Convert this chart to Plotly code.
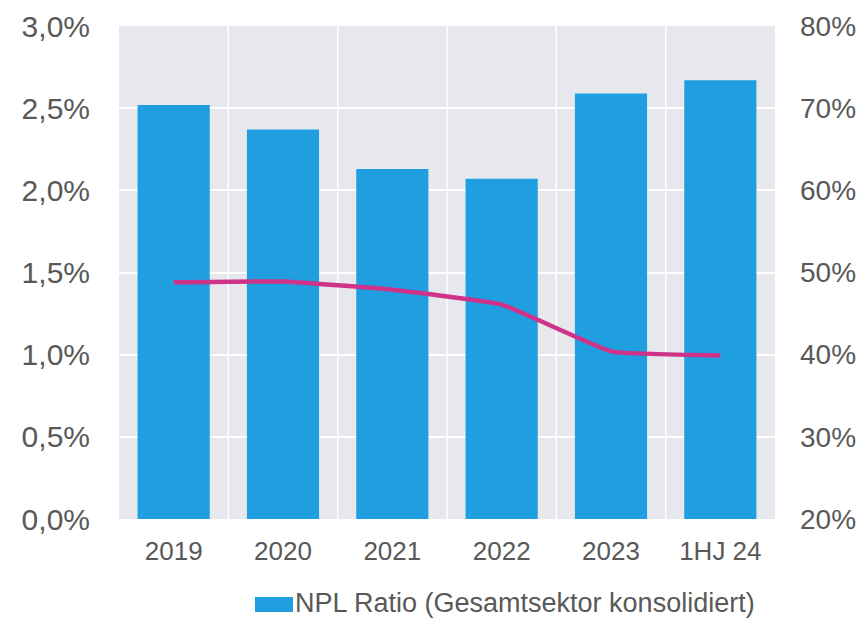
import plotly.graph_objects as go

# Data
categories = ["2019", "2020", "2021", "2022", "2023", "1HJ 24"]
npl_ratio = [2.52, 2.37, 2.13, 2.07, 2.59, 2.67]          # % (left axis)
coverage_ratio = [48.8, 48.9, 47.9, 46.1, 40.4, 39.9]     # % (right axis)

left_ticks = [0, 0.5, 1.0, 1.5, 2.0, 2.5, 3.0]
left_labels = ["0,0%", "0,5%", "1,0%", "1,5%", "2,0%", "2,5%", "3,0%"]
right_ticks = [20, 30, 40, 50, 60, 70, 80]
right_labels = ["20%", "30%", "40%", "50%", "60%", "70%", "80%"]

legend_text = "NPL Ratio (Gesamtsektor konsolidiert)"

BAR_COLOR = "#1F9FE0"
LINE_COLOR = "#CF3389"
TEXT_COLOR = "#595959"
FONT = "Liberation Sans, Arial, sans-serif"

fig = go.Figure()
fig.add_trace(go.Bar(
    x=categories, y=npl_ratio, marker_color=BAR_COLOR, marker_line_width=0,
    width=0.66, name=legend_text, showlegend=False, yaxis="y",
))
fig.add_trace(go.Scatter(
    x=categories, y=coverage_ratio, mode="lines",
    line=dict(color=LINE_COLOR, width=4.5, shape="spline", smoothing=0.3),
    showlegend=False, yaxis="y2",
))

# Legend entry drawn as a swatch plus text below the plot
fig.add_shape(type="rect", xref="paper", yref="paper",
              x0=(255 - 119) / 656, x1=(293 - 119) / 656,
              y0=-(597 - 519) / 493, y1=-(612 - 519) / 493,
              fillcolor=BAR_COLOR, line_width=0)
fig.add_annotation(text=legend_text, xref="paper", yref="paper",
                   x=(294 - 119) / 656, y=-(603 - 519) / 493,
                   xanchor="left", yanchor="middle", showarrow=False,
                   borderpad=0,
                   font=dict(size=27, color=TEXT_COLOR, family=FONT))

fig.update_layout(
    width=868, height=619,
    margin=dict(l=119, r=93, t=26, b=100, autoexpand=False),
    paper_bgcolor="white", plot_bgcolor="#E6E8EE",
    font=dict(family=FONT, color=TEXT_COLOR),
    bargap=0.34,
    xaxis=dict(
        showgrid=False, tickfont=dict(size=26, color=TEXT_COLOR),
        ticklabelstandoff=14, showline=False, zeroline=False, automargin=False,
    ),
    yaxis=dict(
        range=[0, 3.0], tickvals=left_ticks, ticktext=left_labels,
        tickfont=dict(size=30, color=TEXT_COLOR), gridcolor="white",
        gridwidth=1.5, zeroline=False, ticklabelstandoff=28, automargin=False,
    ),
    yaxis2=dict(
        range=[20, 80], tickvals=right_ticks, ticktext=right_labels,
        overlaying="y", side="right", showgrid=False, zeroline=False,
        tickfont=dict(size=28, color=TEXT_COLOR), ticklabelstandoff=24,
        automargin=False,
    ),
)

# White separators between categories
for i in range(1, len(categories)):
    fig.add_vline(x=i - 0.5, line_color="white", line_width=1.5, layer="below")

fig.write_html("out.html")
